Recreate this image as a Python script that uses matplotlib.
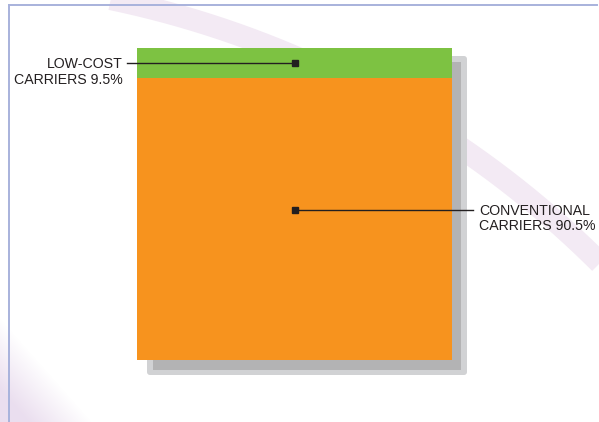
import numpy as np
import matplotlib.pyplot as plt
from matplotlib.patches import FancyBboxPatch

plt.rcParams['font.family'] = ['Liberation Sans', 'DejaVu Sans']

# market share of seats, bottom to top
segments = ['CONVENTIONAL\nCARRIERS', 'LOW-COST\nCARRIERS']
shares = [90.5, 9.5]
colors = ['#f7931e', '#7dc242']

W, H = 599, 422
fig = plt.figure(figsize=(W / 100, H / 100), dpi=100)

# background layer in pixel units
bg = fig.add_axes([0, 0, 1, 1])
bg.set_xlim(0, W)
bg.set_ylim(H, 0)
bg.axis('off')

# soft lilac corner wash
gx, gy = np.meshgrid(np.arange(0, 120), np.arange(300, H))
wash = np.clip((gy - 318 - 1.13 * gx) / 70.0, 0, 1) * 0.75
rgba = np.zeros(gx.shape + (4,))
rgba[..., :3] = np.array([0xe4, 0xd4, 0xea]) / 255
rgba[..., 3] = wash
bg.imshow(rgba, extent=(0, 120, H, 300), aspect='auto', zorder=0)

# faint swoosh arc through three points
def circle3(p1, p2, p3):
    (x1, y1), (x2, y2), (x3, y3) = p1, p2, p3
    a = np.array([[x2 - x1, y2 - y1], [x3 - x1, y3 - y1]]) * 2
    b = np.array([x2**2 - x1**2 + y2**2 - y1**2, x3**2 - x1**2 + y3**2 - y1**2])
    cx, cy = np.linalg.solve(a, b)
    return cx, cy, np.hypot(x1 - cx, y1 - cy)

cx, cy, r = circle3((150, 8), (467, 152), (599, 262))
a0 = np.arctan2(-30 - cy, 60 - cx)
a1 = np.arctan2(340 - cy, 680 - cx)
t = np.linspace(a0, a1, 300)
bg.plot(cx + r * np.cos(t), cy + r * np.sin(t), color='#f3eaf4', lw=16,
        solid_capstyle='butt', zorder=1)

# frame lines
bg.plot([9, 597], [5, 5], color='#a8b2dc', lw=1.4, zorder=2)
bg.plot([9, 9], [5, H], color='#a8b2dc', lw=1.4, zorder=2)

# drop shadow behind the block
bg.add_patch(FancyBboxPatch((147, 56), 320, 319, boxstyle='round,pad=0,rounding_size=3',
                            fc='#d1d2d4', ec='none', zorder=3))
bg.add_patch(FancyBboxPatch((153, 62), 308, 308, boxstyle='square,pad=0',
                            fc='#b3b3b4', ec='none', zorder=4))

# stacked block
ax = fig.add_axes([137 / W, (H - 360) / H, 315 / W, 312 / H])
ax.set_xlim(0, 1)
ax.set_ylim(0, 100)
ax.axis('off')
ax.patch.set_alpha(0)

bottom = 0
for share, col in zip(shares, colors):
    ax.bar(0.5, share, width=1, bottom=bottom, color=col, linewidth=0)
    bottom += share

ink = '#231f20'
anchors = [48, shares[0] + shares[1] / 2]
ends = [1.067, -0.032]
text_x = [1.086, -0.044]
aligns = ['left', 'right']
lifts = [4.8, 4.0]

for name, share, y, xe, xt, ha, dy in zip(segments, shares, anchors, ends, text_x, aligns, lifts):
    ax.plot([0.5, xe], [y, y], color=ink, lw=1.0, clip_on=False)
    ax.plot(0.5, y, marker='s', ms=4.5, color=ink, clip_on=False)
    ax.annotate(f'{name} {share}%', xy=(xt, y), xytext=(0, dy), textcoords='offset points',
                ha=ha, va='top', fontsize=10.2, color=ink, linespacing=1.12,
                multialignment=ha, annotation_clip=False)

fig.savefig('out.png', dpi=100)
